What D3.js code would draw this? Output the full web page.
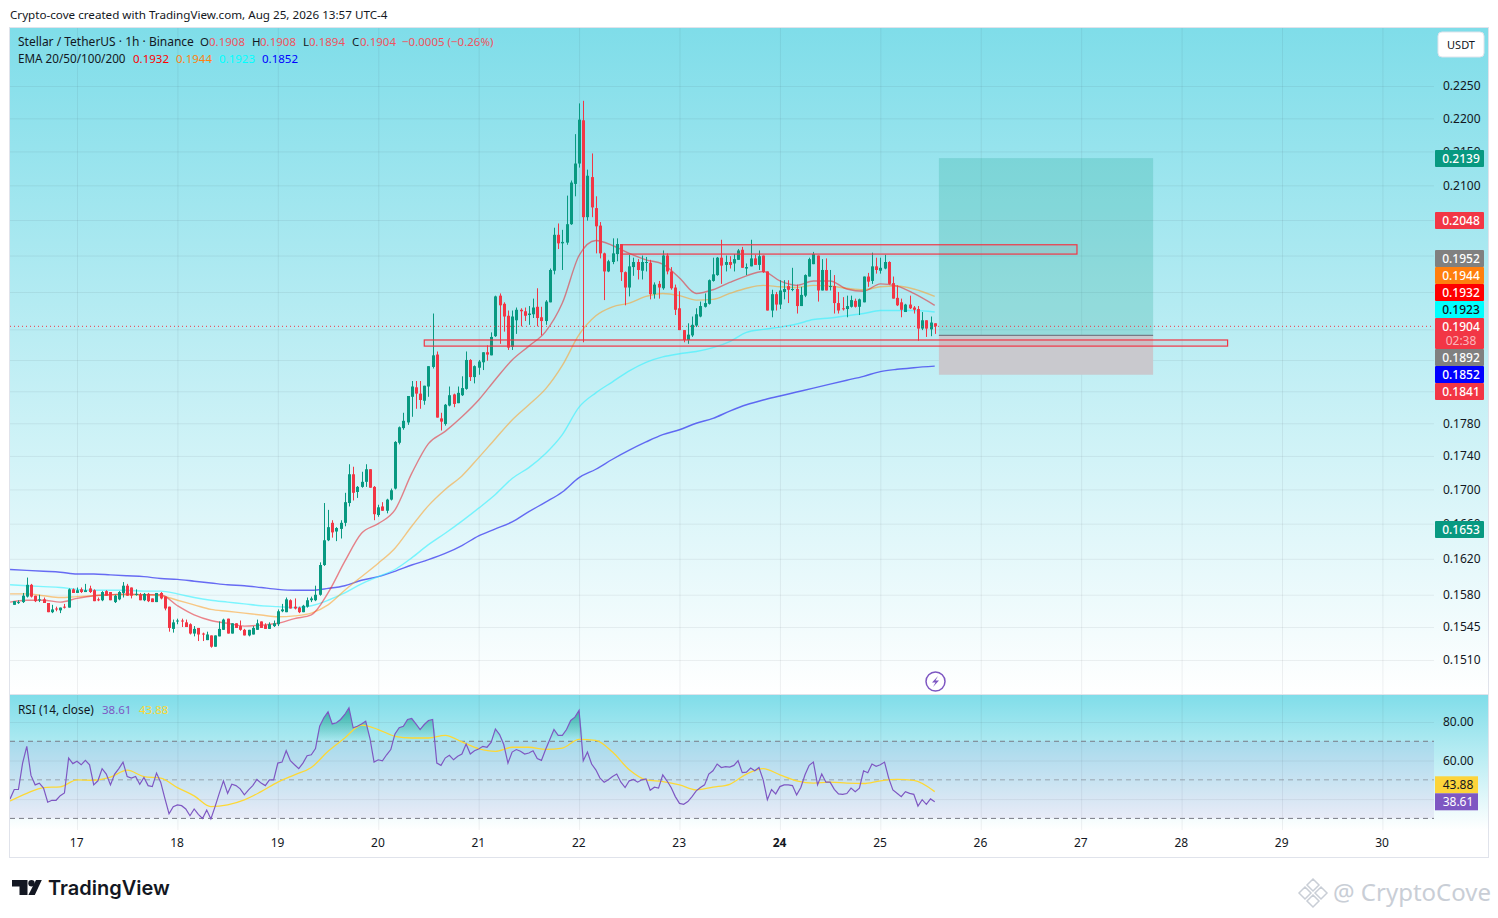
<!DOCTYPE html>
<html>
<head>
<meta charset="utf-8">
<title>XLM/USDT</title>
<script src="https://cdn.jsdelivr.net/npm/d3@7"></script>
<style>
  html, body { margin: 0; background: #fff; }
  svg { display: block; }
  text { font-family: "Noto Sans", sans-serif; }
</style>
</head>
<body>
<div id="chart"></div>
<script>
// hours counted from Aug 17 00:00, one candle per hour
const firstHour = -15;
const opens = [
  .1569,.1571,.1572,.1578,.1591,.1579,.1574,.1575,.1571,.1561,
  .1565,.1563,.1567,.1566,.1586,.1582,.1586,.1583,.1587,.1585,
  .1575,.1574,.1584,.1583,.1572,.1575,.1582,.1590,.1588,.1580,
  .1580,.1574,.1581,.1576,.1572,.1582,.1578,.1567,.1543,.1551,
  .1552,.1550,.1548,.1538,.1544,.1538,.1531,.1536,.1524,.1535,
  .1542,.1554,.1538,.1549,.1546,.1542,.1536,.1537,.1542,.1551,
  .1547,.1543,.1546,.1548,.1562,.1561,.1574,.1567,.1566,.1561,
  .1567,.1574,.1574,.1580,.1613,.1641,.1661,.1651,.1654,.1661,
  .1684,.1718,.1697,.1703,.1709,.1724,.1703,.1670,.1680,.1675,
  .1688,.1701,.1756,.1774,.1781,.1813,.1825,.1817,.1808,.1826,
  .1851,.1867,.1786,.1779,.1802,.1816,.1805,.1815,.1823,.1860,
  .1838,.1850,.1857,.1870,.1866,.1891,.1945,.1934,.1918,.1877,
  .1912,.1926,.1924,.1919,.1920,.1930,.1916,.1911,.1936,.1979,
  .2029,.2017,.2018,.2044,.2102,.2132,.2197,.2054,.2112,.2067,
  .2042,.2003,.1978,.1991,.2002,.2016,.1977,.1956,.1984,.1991,
  .1979,.1990,.1990,.1947,.1961,.1955,.2000,.1978,.1956,.1928,
  .1899,.1886,.1892,.1905,.1917,.1930,.1934,.1965,.1973,.1997,
  .1987,.1991,.1989,.1994,.2008,.1982,.1985,.1996,.1987,.2000,
  .1978,.1925,.1947,.1933,.1950,.1958,.1953,.1954,.1931,.1945,
  .1971,.1988,.2000,.1952,.1980,.1957,.1958,.1935,.1928,.1927,
  .1930,.1938,.1930,.1936,.1971,.1965,.1985,.1979,.1982,.1991,
  .1962,.1942,.1936,.1923,.1933,.1929,.1927,.1901,.1912,.1900,
  .1908
];
const highs = [
  .1573,.1574,.1582,.1599,.1592,.1579,.1580,.1577,.1571,.1569,
  .1567,.1566,.1570,.1587,.1587,.1588,.1588,.1592,.1590,.1586,
  .1577,.1584,.1585,.1583,.1580,.1584,.1594,.1592,.1588,.1586,
  .1582,.1582,.1582,.1576,.1582,.1583,.1578,.1567,.1553,.1554,
  .1554,.1553,.1549,.1546,.1544,.1539,.1540,.1536,.1536,.1551,
  .1554,.1554,.1549,.1549,.1552,.1543,.1542,.1546,.1553,.1551,
  .1549,.1550,.1552,.1564,.1570,.1577,.1575,.1576,.1567,.1569,
  .1577,.1578,.1590,.1616,.1684,.1676,.1664,.1656,.1664,.1696,
  .1730,.1727,.1704,.1721,.1730,.1724,.1704,.1682,.1685,.1689,
  .1701,.1758,.1776,.1793,.1814,.1833,.1833,.1833,.1827,.1852,
  .1921,.1871,.1793,.1804,.1826,.1817,.1826,.1839,.1871,.1861,
  .1853,.1860,.1870,.1879,.1896,.1945,.1948,.1936,.1925,.1925,
  .1929,.1928,.1929,.1931,.1941,.1955,.1930,.1939,.1982,.2039,
  .2045,.2036,.2085,.2107,.2176,.2223,.2227,.2123,.2147,.2084,
  .2047,.2004,.1994,.2024,.2024,.2016,.1978,.2001,.1997,.1995,
  .2000,.1998,.1994,.1963,.1965,.2007,.2003,.1984,.1960,.1951,
  .1899,.1908,.1917,.1928,.1937,.1948,.1967,.1997,.1998,.2022,
  .2000,.1999,.2002,.2009,.2012,.1989,.2022,.2001,.2007,.2000,
  .1978,.1953,.1950,.1966,.1966,.1966,.1983,.1960,.1957,.1974,
  .1997,.2005,.2000,.1995,.1996,.1980,.1973,.1950,.1943,.1945,
  .1945,.1941,.1941,.1971,.1976,.2004,.1997,.1997,.2001,.1992,
  .1971,.1959,.1941,.1934,.1945,.1931,.1931,.1923,.1912,.1917,
  .1908
];
const lows = [
  .1569,.1570,.1571,.1577,.1577,.1572,.1572,.1571,.1561,.1560,
  .1562,.1560,.1565,.1566,.1582,.1582,.1582,.1583,.1582,.1573,
  .1573,.1573,.1579,.1574,.1571,.1574,.1577,.1579,.1576,.1579,
  .1574,.1573,.1572,.1572,.1572,.1575,.1563,.1540,.1539,.1548,
  .1545,.1545,.1537,.1535,.1530,.1530,.1531,.1523,.1524,.1535,
  .1542,.1538,.1538,.1544,.1541,.1536,.1535,.1537,.1542,.1544,
  .1543,.1543,.1545,.1546,.1561,.1561,.1565,.1564,.1560,.1561,
  .1566,.1572,.1573,.1579,.1612,.1640,.1644,.1640,.1643,.1657,
  .1680,.1687,.1690,.1702,.1703,.1702,.1664,.1668,.1675,.1672,
  .1687,.1700,.1754,.1772,.1778,.1788,.1798,.1798,.1803,.1813,
  .1849,.1787,.1771,.1777,.1801,.1800,.1805,.1814,.1822,.1833,
  .1830,.1841,.1847,.1859,.1866,.1890,.1881,.1897,.1873,.1873,
  .1894,.1904,.1911,.1906,.1915,.1904,.1892,.1906,.1936,.1974,
  .2009,.1980,.2015,.2043,.2084,.2126,.1883,.2049,.2054,.2003,
  .1996,.1939,.1977,.1988,.1992,.1965,.1932,.1944,.1972,.1967,
  .1967,.1978,.1940,.1941,.1941,.1953,.1974,.1953,.1919,.1899,
  .1883,.1881,.1890,.1903,.1916,.1929,.1933,.1964,.1972,.1961,
  .1978,.1982,.1978,.1994,.1983,.1973,.1985,.1987,.1980,.1976,
  .1925,.1916,.1925,.1927,.1940,.1935,.1951,.1921,.1931,.1943,
  .1971,.1988,.1937,.1952,.1952,.1952,.1921,.1921,.1925,.1916,
  .1929,.1929,.1919,.1936,.1957,.1961,.1975,.1975,.1981,.1960,
  .1941,.1931,.1916,.1923,.1927,.1921,.1885,.1899,.1890,.1891,
  .1894
];
const closes = [
  .1573,.1572,.1579,.1591,.1578,.1573,.1575,.1571,.1561,.1564,
  .1564,.1566,.1566,.1586,.1582,.1585,.1583,.1585,.1583,.1573,
  .1574,.1583,.1579,.1574,.1579,.1583,.1590,.1579,.1579,.1581,
  .1574,.1581,.1573,.1572,.1582,.1576,.1565,.1544,.1550,.1552,
  .1551,.1545,.1538,.1543,.1537,.1537,.1537,.1524,.1536,.1543,
  .1553,.1538,.1549,.1544,.1542,.1536,.1542,.1544,.1549,.1544,
  .1543,.1548,.1549,.1562,.1564,.1575,.1565,.1565,.1561,.1568,
  .1574,.1576,.1580,.1613,.1641,.1656,.1650,.1655,.1661,.1685,
  .1718,.1696,.1703,.1709,.1724,.1702,.1671,.1679,.1675,.1688,
  .1699,.1757,.1775,.1783,.1814,.1826,.1817,.1809,.1827,.1852,
  .1866,.1787,.1782,.1803,.1815,.1804,.1818,.1824,.1860,.1838,
  .1852,.1858,.1870,.1867,.1890,.1944,.1932,.1917,.1876,.1917,
  .1926,.1924,.1918,.1921,.1929,.1915,.1911,.1937,.1980,.2029,
  .2017,.2019,.2044,.2104,.2132,.2198,.2054,.2114,.2068,.2041,
  .2003,.1978,.1992,.2003,.2016,.1977,.1956,.1985,.1991,.1980,
  .1991,.1991,.1947,.1960,.1956,.2000,.1978,.1955,.1926,.1899,
  .1886,.1893,.1906,.1920,.1931,.1935,.1966,.1974,.1997,.1986,
  .1991,.1987,.1995,.2007,.1983,.1984,.1996,.1987,.1999,.1977,
  .1925,.1947,.1933,.1952,.1954,.1953,.1954,.1931,.1946,.1973,
  .1995,.2002,.1952,.1980,.1952,.1958,.1935,.1925,.1927,.1931,
  .1939,.1930,.1940,.1971,.1964,.1985,.1980,.1983,.1991,.1961,
  .1941,.1932,.1926,.1933,.1928,.1926,.1901,.1912,.1901,.1909,
  .1904
];

// moving averages and rsi signal are read every 4 hours
const sampleHours = [
  -16,-12,-8,-4,0,4,8,12,16,20,24,28,32,36,40,44,48,52,56,60,64,68,72,76,80,84,88,92,96,100,
  104,108,112,116,120,124,128,132,136,140,144,148,152,156,160,164,168,172,176,180,184,188,192,196,200,205
];
const ema20 = [
  .1572,.1574,.1574,.1572,.1576,.1579,.1580,.1581,.1580,.1580,.1568,.1558,.1552,.1549,.1546,.1547,.1549,.1554,.1558,.1582,
  .1617,.1649,.1660,.1676,.1719,.1755,.1770,.1788,.1809,.1835,.1860,.1878,.1897,.1935,.2000,.2021,.2014,.2003,.1994,.1988,
  .1969,.1948,.1953,.1963,.1972,.1978,.1965,.1959,.1965,.1965,.1954,.1951,.1961,.1958,.1948,.1932
];
const ema50 = [
  .1581,.1581,.1579,.1577,.1578,.1579,.1580,.1580,.1580,.1579,.1574,.1569,.1564,.1562,.1560,.1558,.1556,.1557,.1560,.1569,
  .1585,.1600,.1615,.1632,.1657,.1681,.1700,.1716,.1738,.1761,.1784,.1803,.1823,.1853,.1893,.1918,.1930,.1935,.1944,.1948,
  .1945,.1939,.1940,.1948,.1955,.1959,.1957,.1956,.1959,.1958,.1955,.1953,.1957,.1958,.1954,.1944
];
const ema100 = [
  .1591,.1590,.1589,.1588,.1586,.1585,.1585,.1585,.1584,.1584,.1581,.1577,.1574,.1572,.1570,.1568,.1567,.1566,.1568,.1574,
  .1582,.1592,.1600,.1608,.1621,.1636,.1649,.1663,.1678,.1694,.1713,.1726,.1743,.1766,.1800,.1818,.1832,.1846,.1857,.1864,
  .1868,.1871,.1876,.1884,.1896,.1900,.1903,.1907,.1913,.1915,.1918,.1921,.1925,.1925,.1925,.1923
];
const ema200 = [
  .1608,.1607,.1606,.1605,.1603,.1603,.1602,.1601,.1600,.1598,.1597,.1595,.1593,.1591,.1590,.1588,.1586,.1585,.1585,.1587,
  .1590,.1596,.1600,.1606,.1613,.1619,.1626,.1635,.1646,.1654,.1662,.1674,.1685,.1697,.1714,.1724,.1736,.1747,.1757,.1766,
  .1772,.1780,.1786,.1795,.1803,.1809,.1814,.1819,.1824,.1829,.1834,.1839,.1845,.1848,.1850,.1852
];
const rsiSignal = [
  39.0,43.0,46.0,46.4,50.0,49.8,51.4,55.0,51.7,50.9,46.0,41.7,36.1,37.0,39.6,43.9,48.8,52.6,56.4,64.8,
  71.7,78.4,76.1,72.6,71.7,71.7,73.1,69.7,66.2,64.8,66.9,66.9,65.8,66.5,71.0,70.5,64.4,55.2,50.0,49.1,
  47.4,44.8,46.2,47.7,53.0,55.8,52.6,49.5,48.3,48.8,48.3,48.1,49.5,50.2,49.7,43.88
];
// rsi from hour -16
const rsiFirstHour = -16;
const rsiValues = [
  40.1,45.0,45.0,58.7,67.4,52.3,47.4,48.3,45.7,38.4,39.4,39.4,41.8,43.2,61.3,58.4,
  59.6,57.8,60.1,57.8,47.4,49.5,55.8,53.0,47.4,53.0,55.8,59.2,51.7,50.9,51.7,47.7,51.2,47.0,46.5,53.5,48.8,40.4,32.4,36.1,
  37.0,36.6,34.9,31.4,34.9,32.1,30.0,34.3,29.7,36.1,43.0,49.5,43.0,47.7,47.0,45.3,42.2,44.8,47.0,50.2,48.3,47.0,50.0,50.0,
  58.7,59.2,65.1,59.9,57.8,55.8,58.7,62.5,63.0,66.2,77.8,82.2,85.3,79.0,79.6,81.3,83.9,87.4,77.0,77.8,79.0,80.4,71.7,59.2,
  60.4,59.9,63.0,65.7,73.8,77.0,77.8,81.3,81.8,79.0,76.1,78.7,80.8,81.3,58.7,57.5,61.3,62.7,60.4,62.2,63.4,68.6,63.4,65.1,
  66.0,67.4,66.9,69.5,76.4,73.5,68.3,58.7,64.4,65.7,64.8,63.4,63.9,65.1,61.0,60.1,65.7,70.9,76.1,73.1,73.1,76.1,80.8,82.5,
  86.0,59.9,64.4,58.2,55.2,50.9,48.8,50.0,51.7,53.0,48.8,46.0,49.5,50.2,48.8,50.0,50.5,44.6,46.2,45.7,52.6,49.5,46.0,41.3,
  37.8,37.3,38.7,41.3,44.3,46.0,47.4,53.0,54.7,58.2,56.4,56.8,56.6,57.5,59.9,53.7,54.0,56.1,54.7,56.4,50.0,39.7,45.0,42.7,
  46.5,47.4,47.4,47.0,42.2,46.0,52.6,57.5,59.2,47.4,53.0,48.8,48.8,45.1,42.7,42.5,42.9,45.7,43.9,45.7,54.7,53.7,58.2,57.0,
  57.8,59.2,50.9,44.8,43.0,41.3,43.9,43.0,42.5,36.4,39.7,37.3,40.1,38.61
];

// axis labels
const priceGrid = [.2250,.2200,.2150,.2100,.2050,.2000,.1950,.1900,.1860,.1820,.1780,.1740,.1700,.1660,.1620,.1580,.1545,.1510];
const priceLabels = [.2250,.2200,.2150,.2100,.1780,.1740,.1700,.1660,.1620,.1580,.1545,.1510];
const rsiTicks = [80, 60];
const rsiGridLevels = [80, 60, 40];
const rsiBands = [70, 50, 30];
const dayLabels = [17,18,19,20,21,22,23,24,25,26,27,28,29,30];

// drawings on the chart, in hours and prices
const supplyZone = {from: 130, to: 239, top: .2015, bottom: .2002};
const demandZone = {from: 83, to: 275, top: .1886, bottom: .1878};
const longTool = {from: 206, to: 257.2, target: .2140, entry: .1892, stop: .1841};

const lastPrice = .1904, lastCountdown = "02:38";
const priceBadges = [
  {v: .2139, fill: "#089981", text: "#fff"},
  {v: .2048, fill: "#f23645", text: "#fff"},
  {v: .1952, fill: "#808080", text: "#fff"},
  {v: .1944, fill: "#ff7f0e", text: "#fff"},
  {v: .1932, fill: "#ff0000", text: "#fff"},
  {v: .1923, fill: "#00ffff", text: "#131722"},
  {v: .1904, fill: "#f23645", text: "#fff", sub: lastCountdown},
  {v: .1892, fill: "#808080", text: "#fff"},
  {v: .1852, fill: "#0000ff", text: "#fff"},
  {v: .1841, fill: "#f23645", text: "#fff"},
  {v: .1653, fill: "#089981", text: "#fff"}
];

const width = 1498, height = 918;
const paneLeft = 10, paneRight = 1434, frameRight = 1488;
const mainTop = 28, mainBottom = 694, rsiBottom = 830, frameBottom = 857;

const red = "#f23645", green = "#089981", purple = "#7e57c2", yellow = "#fdd835", ink = "#131722";

const x = d3.scaleLinear().domain([0, 312]).range([77, 1382.4]);
const y = d3.scaleLog().domain([.2250, .1510]).range([86, 660]);
const rsiY = d3.scaleLinear().domain([80, 30]).range([722, 818.4]);

const fmt4 = d3.format(".4f"), fmt2 = d3.format(".2f");
const candles = opens.map((o, i) => ({h: firstHour + i, o: o, hi: highs[i], lo: lows[i], c: closes[i]}));
const rsiPoints = rsiValues.map((v, i) => ({h: rsiFirstHour + i, v: v}));

const svg = d3.select("#chart").append("svg").attr("width", width).attr("height", height);
const defs = svg.append("defs");

function vGradient(id, stops) {
  const g = defs.append("linearGradient").attr("id", id).attr("x1", 0).attr("x2", 0).attr("y1", 0).attr("y2", 1);
  stops.forEach(s => g.append("stop").attr("offset", s[0]).attr("stop-color", s[1]).attr("stop-opacity", s[2]));
}
vGradient("paneFill", [[0, "#7fdde9", 1], [1, "#ffffff", 1]]);
vGradient("obFill", [[0, green, .7], [1, green, 0]]);
defs.append("clipPath").attr("id", "mainClip").append("rect")
  .attr("x", paneLeft).attr("y", mainTop).attr("width", paneRight - paneLeft).attr("height", mainBottom - mainTop);
defs.append("clipPath").attr("id", "rsiClip").append("rect")
  .attr("x", paneLeft).attr("y", mainBottom).attr("width", paneRight - paneLeft).attr("height", rsiBottom - mainBottom);

svg.append("text").attr("x", 10).attr("y", 19).attr("font-size", 11.65).attr("fill", ink)
  .text("Crypto-cove created with TradingView.com, Aug 25, 2026 13:57 UTC-4");

// pane backgrounds
svg.append("rect").attr("x", paneLeft).attr("y", mainTop).attr("width", frameRight - paneLeft).attr("height", mainBottom - mainTop).attr("fill", "url(#paneFill)");
svg.append("rect").attr("x", paneLeft).attr("y", mainBottom).attr("width", frameRight - paneLeft).attr("height", rsiBottom - mainBottom).attr("fill", "url(#paneFill)");

// grid
svg.append("g").attr("class", "grid").attr("transform", `translate(0,${mainTop})`)
  .call(d3.axisBottom(x).tickValues(dayLabels.map(d => (d - 17) * 24)).tickSize(rsiBottom - mainTop).tickFormat(""));
svg.append("g").attr("class", "grid").attr("transform", `translate(${paneLeft},0)`)
  .call(d3.axisRight(y).tickValues(priceGrid).tickSize(paneRight - paneLeft).tickFormat(""));
svg.append("g").attr("class", "grid").attr("transform", `translate(${paneLeft},0)`)
  .call(d3.axisRight(rsiY).tickValues(rsiGridLevels).tickSize(paneRight - paneLeft).tickFormat(""));
svg.selectAll(".grid .domain").remove();
svg.selectAll(".grid line").attr("stroke", "#2a2e39").attr("stroke-opacity", .07);

const main = svg.append("g").attr("clip-path", "url(#mainClip)");

// long position tool
main.append("rect").attr("x", x(longTool.from)).attr("width", x(longTool.to) - x(longTool.from))
  .attr("y", y(longTool.target)).attr("height", y(longTool.entry) - y(longTool.target)).attr("fill", green).attr("fill-opacity", .2);
main.append("rect").attr("x", x(longTool.from)).attr("width", x(longTool.to) - x(longTool.from))
  .attr("y", y(longTool.entry)).attr("height", y(longTool.stop) - y(longTool.entry)).attr("fill", "#c9c9ce");
main.append("line").attr("x1", x(longTool.from)).attr("x2", x(longTool.to))
  .attr("y1", y(longTool.entry)).attr("y2", y(longTool.entry)).attr("stroke", "#787b86").attr("stroke-width", 1.2);

// ema lines
const emaLine = d3.line().x((d, i) => x(sampleHours[i])).y(d => y(d)).curve(d3.curveMonotoneX);
const emas = [
  {v: ema200, c: "#3b3bf0", o: .75},
  {v: ema100, c: "#30f2ff", o: .6},
  {v: ema50, c: "#ff9c20", o: .55},
  {v: ema20, c: "#e8202c", o: .55}
];
main.selectAll("path.ema").data(emas).join("path").attr("class", "ema")
  .attr("d", d => emaLine(d.v)).attr("fill", "none").attr("stroke", d => d.c)
  .attr("stroke-opacity", d => d.o).attr("stroke-width", 1.4);

// candles
main.selectAll("line.wick").data(candles).join("line").attr("class", "wick")
  .attr("x1", d => Math.round(x(d.h)) + .5).attr("x2", d => Math.round(x(d.h)) + .5)
  .attr("y1", d => y(d.hi)).attr("y2", d => y(d.lo))
  .attr("stroke", d => d.c >= d.o ? green : red).attr("stroke-width", 1);
main.selectAll("rect.body").data(candles).join("rect").attr("class", "body")
  .attr("x", d => Math.round(x(d.h)) - 1).attr("width", 3)
  .attr("y", d => y(Math.max(d.o, d.c)))
  .attr("height", d => Math.max(1, Math.abs(y(d.o) - y(d.c))))
  .attr("fill", d => d.c >= d.o ? green : red);

// hand drawn zones
[supplyZone, demandZone].forEach(z => {
  main.append("rect").attr("x", x(z.from)).attr("width", x(z.to) - x(z.from))
    .attr("y", y(z.top)).attr("height", y(z.bottom) - y(z.top))
    .attr("fill", red).attr("fill-opacity", .07).attr("stroke", red).attr("stroke-width", 1.2);
});

// last price line
main.append("line").attr("x1", paneLeft).attr("x2", paneRight).attr("y1", y(lastPrice)).attr("y2", y(lastPrice))
  .attr("stroke", red).attr("stroke-width", 1).attr("stroke-dasharray", "1 3");

// rsi pane
const rsi = svg.append("g").attr("clip-path", "url(#rsiClip)");
rsi.append("rect").attr("x", paneLeft).attr("width", paneRight - paneLeft)
  .attr("y", rsiY(70)).attr("height", rsiY(30) - rsiY(70)).attr("fill", purple).attr("fill-opacity", .1);
rsi.selectAll("line.band").data(rsiBands).join("line").attr("class", "band")
  .attr("x1", paneLeft).attr("x2", paneRight).attr("y1", d => rsiY(d)).attr("y2", d => rsiY(d))
  .attr("stroke", "#787b86").attr("stroke-opacity", d => d === 50 ? .6 : 1).attr("stroke-dasharray", "5 4");
rsi.append("path").datum(rsiPoints)
  .attr("d", d3.area().x(d => x(d.h)).y0(rsiY(70)).y1(d => rsiY(Math.max(d.v, 70))))
  .attr("fill", "url(#obFill)");
rsi.append("path")
  .attr("d", d3.line().x((d, i) => x(sampleHours[i])).y(d => rsiY(d)).curve(d3.curveMonotoneX)(rsiSignal))
  .attr("fill", "none").attr("stroke", yellow).attr("stroke-width", 1.3);
rsi.append("path").datum(rsiPoints)
  .attr("d", d3.line().x(d => x(d.h)).y(d => rsiY(d.v)))
  .attr("fill", "none").attr("stroke", purple).attr("stroke-width", 1.2);

// frame
svg.append("rect").attr("x", paneLeft - .5).attr("y", mainTop - .5).attr("width", frameRight - paneLeft + 1).attr("height", frameBottom - mainTop + 1)
  .attr("fill", "none").attr("stroke", "#e0e3eb");
svg.append("line").attr("x1", paneLeft).attr("x2", frameRight).attr("y1", mainBottom + .5).attr("y2", mainBottom + .5).attr("stroke", "#e0e3eb");

// axes
const priceAxis = svg.append("g").attr("transform", `translate(${paneRight + 3},0)`)
  .call(d3.axisRight(y).tickValues(priceLabels).tickSize(0).tickPadding(6).tickFormat(fmt4));
const rsiAxis = svg.append("g").attr("transform", `translate(${paneRight + 3},0)`)
  .call(d3.axisRight(rsiY).tickValues(rsiTicks).tickSize(0).tickPadding(6).tickFormat(fmt2));
const timeAxis = svg.append("g").attr("transform", `translate(-0.8,${rsiBottom + 3.5})`)
  .call(d3.axisBottom(x).tickValues(dayLabels.map(d => (d - 17) * 24)).tickSize(0).tickPadding(5)
    .tickFormat(h => h / 24 + 17));
[priceAxis, rsiAxis, timeAxis].forEach(a => {
  a.select(".domain").remove();
  a.selectAll("text").attr("font-size", 12).attr("fill", ink).style("font-family", '"Noto Sans", sans-serif');
});
timeAxis.selectAll("text").filter(h => h / 24 + 17 === 24).attr("font-weight", 700);

// price badges, overlapping ones get stacked round their mean
const badgeH = 17, subH = 14;
function stackBadges(list) {
  const sorted = list.slice().sort((a, b) => b.v - a.v).map(b => ({...b, h: badgeH + (b.sub ? subH : 0), ideal: y(b.v)}));
  let groups = sorted.map(b => ({items: [b], ideal: b.ideal}));
  let merged = true;
  while (merged) {
    merged = false;
    for (let i = 0; i < groups.length - 1; i++) {
      const a = groups[i], b = groups[i + 1];
      const ah = d3.sum(a.items, d => d.h), bh = d3.sum(b.items, d => d.h);
      if (a.ideal + ah / 2 > b.ideal - bh / 2) {
        a.items = a.items.concat(b.items);
        a.ideal = d3.mean(a.items, d => d.ideal);
        groups.splice(i + 1, 1);
        merged = true;
        break;
      }
    }
  }
  groups.forEach(g => {
    let top = Math.floor(g.ideal - d3.sum(g.items, d => d.h) / 2);
    g.items.forEach(b => { b.top = top; top += b.h; });
  });
  return sorted;
}
const badges = svg.append("g").selectAll("g").data(stackBadges(priceBadges)).join("g")
  .attr("transform", d => `translate(${paneRight + 1},${d.top})`);
badges.append("rect").attr("width", 49).attr("height", d => d.h).attr("rx", 1).attr("fill", d => d.fill);
badges.append("text").attr("x", 26).attr("y", 13).attr("text-anchor", "middle").attr("font-size", 12).attr("font-weight", 500)
  .attr("fill", d => d.text).text(d => fmt4(d.v));
badges.filter(d => d.sub).append("text").attr("x", 26).attr("y", 27).attr("text-anchor", "middle").attr("font-size", 12)
  .attr("fill", "#fff").attr("fill-opacity", .65).text(d => d.sub);

// rsi badges
const lastRsi = rsiValues[rsiValues.length - 1], lastSignal = rsiSignal[rsiSignal.length - 1];
const rsiBadges = [
  {v: lastSignal, fill: "#fdd43a", text: ink, off: -1.5 * badgeH},
  {v: lastRsi, fill: purple, text: "#fff", off: -.5 * badgeH}
];
const rb = svg.append("g").selectAll("g").data(rsiBadges).join("g")
  .attr("transform", d => `translate(${paneRight + 1},${rsiY(lastRsi) + d.off})`);
rb.append("rect").attr("width", 43).attr("height", badgeH).attr("fill", d => d.fill);
rb.append("text").attr("x", 23).attr("y", 13).attr("text-anchor", "middle").attr("font-size", 12).attr("fill", d => d.text).text(d => fmt2(d.v));

// legends
function legend(baseY, parts) {
  parts.forEach(p => {
    svg.append("text").attr("x", p[0]).attr("y", baseY).attr("font-size", p[3] || 11.5).attr("fill", p[2] || ink).text(p[1]);
  });
}
const soft = "#ef5360";
legend(46, [
  [18, "Stellar / TetherUS · 1h · Binance", ink, 12], [200, "O"], [209, fmt4(opens[opens.length - 1]), soft],
  [252, "H"], [260, fmt4(highs[highs.length - 1]), soft], [303, "L"], [309, fmt4(lows[lows.length - 1]), soft],
  [352, "C"], [360, fmt4(closes[closes.length - 1]), soft], [402, "−0.0005 (−0.26%)", soft]
]);
legend(63, [
  [18, "EMA 20/50/100/200", ink, 11.7], [133, fmt4(ema20[ema20.length - 1]), "#ff0000"], [176, fmt4(ema50[ema50.length - 1]), "#ff7f0e"],
  [219, fmt4(ema100[ema100.length - 1]), "#00ffff"], [262, fmt4(ema200[ema200.length - 1]), "#0000ff"]
]);
legend(714, [
  [18, "RSI (14, close)", ink, 11.8], [102, fmt2(lastRsi), purple], [139, fmt2(lastSignal), yellow]
]);

// currency button
svg.append("rect").attr("x", 1438).attr("y", 32).attr("width", 46).attr("height", 25).attr("rx", 4).attr("fill", "#fff").attr("stroke", "#e0e3eb");
svg.append("text").attr("x", 1461).attr("y", 48.5).attr("text-anchor", "middle").attr("font-size", 11).attr("fill", ink).text("USDT");

// events marker
const bolt = svg.append("g").attr("transform", "translate(935.5,681.5)");
bolt.append("circle").attr("r", 9.5).attr("fill", "#fff").attr("stroke", "#7e57c2").attr("stroke-width", 1.5);
bolt.append("path").attr("d", "M2.5,-5.5 L-3.5,1 H0 L-2.5,5.5 L3.5,-1 H0 Z").attr("fill", "#7e57c2");

// tradingview logo
const logo = svg.append("g").attr("fill", "#131722");
logo.append("path").attr("d", "M12,880 H27.5 V895 H19.5 V886.5 H12 Z");
logo.append("circle").attr("cx", 31.5).attr("cy", 883.2).attr("r", 3.2);
logo.append("path").attr("d", "M36,880 H41.8 L34.8,895 H28.4 Z");
svg.append("text").attr("x", 48).attr("y", 895).attr("font-size", 20).attr("font-weight", 600)
  .style("font-family", "Inter, sans-serif").attr("fill", "#131722").text("TradingView");

// watermark
const mark = svg.append("g").attr("transform", "translate(1313,893)").attr("fill", "none").attr("stroke", "#c9ced6").attr("stroke-width", 1.5);
mark.append("path").attr("d", "M0,-14 L6,-8 L0,-2 L-6,-8 Z M8,-6 L14,0 L8,6 L2,0 Z M-8,-6 L-2,0 L-8,6 L-14,0 Z M0,2 L6,8 L0,14 L-6,8 Z");
svg.append("text").attr("x", 1333).attr("y", 901).attr("font-size", 24).attr("fill", "#c9ced6").text("@ CryptoCove");
</script>
</body>
</html>
